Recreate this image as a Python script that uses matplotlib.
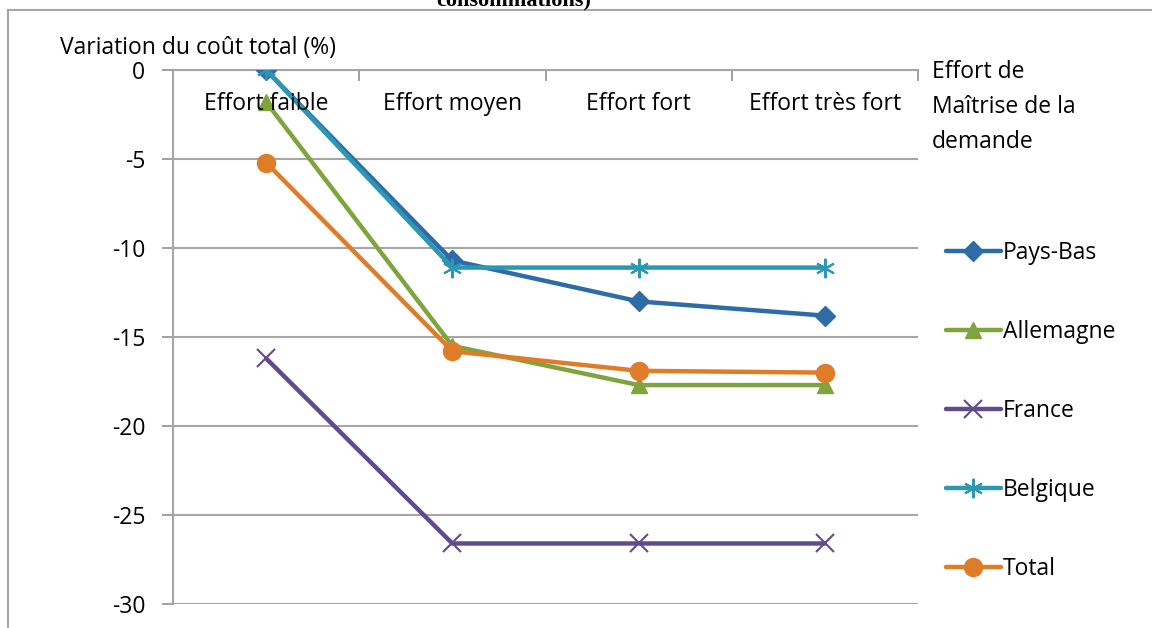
import matplotlib.pyplot as plt
from matplotlib.lines import Line2D

categories = ["Effort faible", "Effort moyen", "Effort fort", "Effort très fort"]
pays_bas = [0, -10.7, -13.0, -13.8]
allemagne = [-1.8, -15.5, -17.7, -17.7]
france = [-16.2, -26.6, -26.6, -26.6]
belgique = [0, -11.1, -11.1, -11.1]
total = [-5.2, -15.8, -16.9, -17.0]
yticks = [0, -5, -10, -15, -20, -25, -30]

plt.rcParams['font.family'] = ['Open Sans', 'DejaVu Sans']
fs = 16.5

fig = plt.figure(figsize=(11.52, 6.28), dpi=100)
ax = fig.add_axes([173/1152, 1-604/628, 745/1152, 534/628])

x = range(len(categories))
series = [
    ("Pays-Bas", pays_bas, '#2E6CA8', dict(marker='D', ms=10)),
    ("Allemagne", allemagne, '#7FA43E', dict(marker='^', ms=12)),
    ("France", france, '#624A8E', dict(marker='x', ms=13, mew=1.5)),
    ("Belgique", belgique, '#2C97B2', dict(marker=(6, 2, 0), ms=14, mew=1.5)),
    ("Total", total, '#DE7C28', dict(marker='o', ms=13)),
]
for name, vals, col, mk in series:
    ax.plot(x, vals, color=col, lw=3.2, label=name, solid_capstyle='round', **mk, zorder=3)

ax.set_xlim(-0.5, len(categories) - 0.5)
ax.set_ylim(-30, 0)
ax.set_yticks(yticks)
ax.set_yticklabels([str(v) for v in yticks], fontsize=fs)
ax.tick_params(axis='y', length=8, color='#999999', width=1.3, pad=12)
ax.grid(axis='y', color='#A6A6A6', lw=1.5)
ax.set_axisbelow(True)

# category axis sits at y=0 (top), labels inside the plot
ax.set_xticks([i - 0.5 for i in range(len(categories) + 1)])
ax.set_xticklabels([])
ax.xaxis.tick_top()
ax.tick_params(axis='x', direction='in', length=8, color='#999999', width=1.3)
for i, c in enumerate(categories):
    ax.text(i, -1.9, c, ha='center', va='center', fontsize=fs, zorder=5)

for s in ['right', 'bottom']:
    ax.spines[s].set_visible(False)
for s in ['top', 'left']:
    ax.spines[s].set_color('#A6A6A6')
    ax.spines[s].set_linewidth(1.5)

fig.text(60/1152, 1-48/628, "Variation du coût total (%)", fontsize=fs, va='center', ha='left')
fig.text(932/1152, 1-60/628, "Effort de\nMaîtrise de la\ndemande", fontsize=fs, va='top', ha='left',
         linespacing=1.6)

ax.legend(loc='upper left', bbox_to_anchor=(925/1152, 1-220/628), bbox_transform=fig.transFigure,
          frameon=False, fontsize=fs, handlelength=2.4, handletextpad=0.1, labelspacing=2.4)

# outer frame and clipped title from the source document
fig.add_artist(Line2D([8/1152, 8/1152], [0, 1-10/628], color='#A6A6A6', lw=1.5, transform=fig.transFigure))
fig.add_artist(Line2D([8/1152, 1], [1-10/628, 1-10/628], color='#A6A6A6', lw=1.5, transform=fig.transFigure))
fig.text(514/1152, 1-5/628, "consommations)", fontsize=16, fontweight='bold', family='Liberation Serif',
         ha='center', va='baseline')

fig.savefig("out.png", dpi=100)
